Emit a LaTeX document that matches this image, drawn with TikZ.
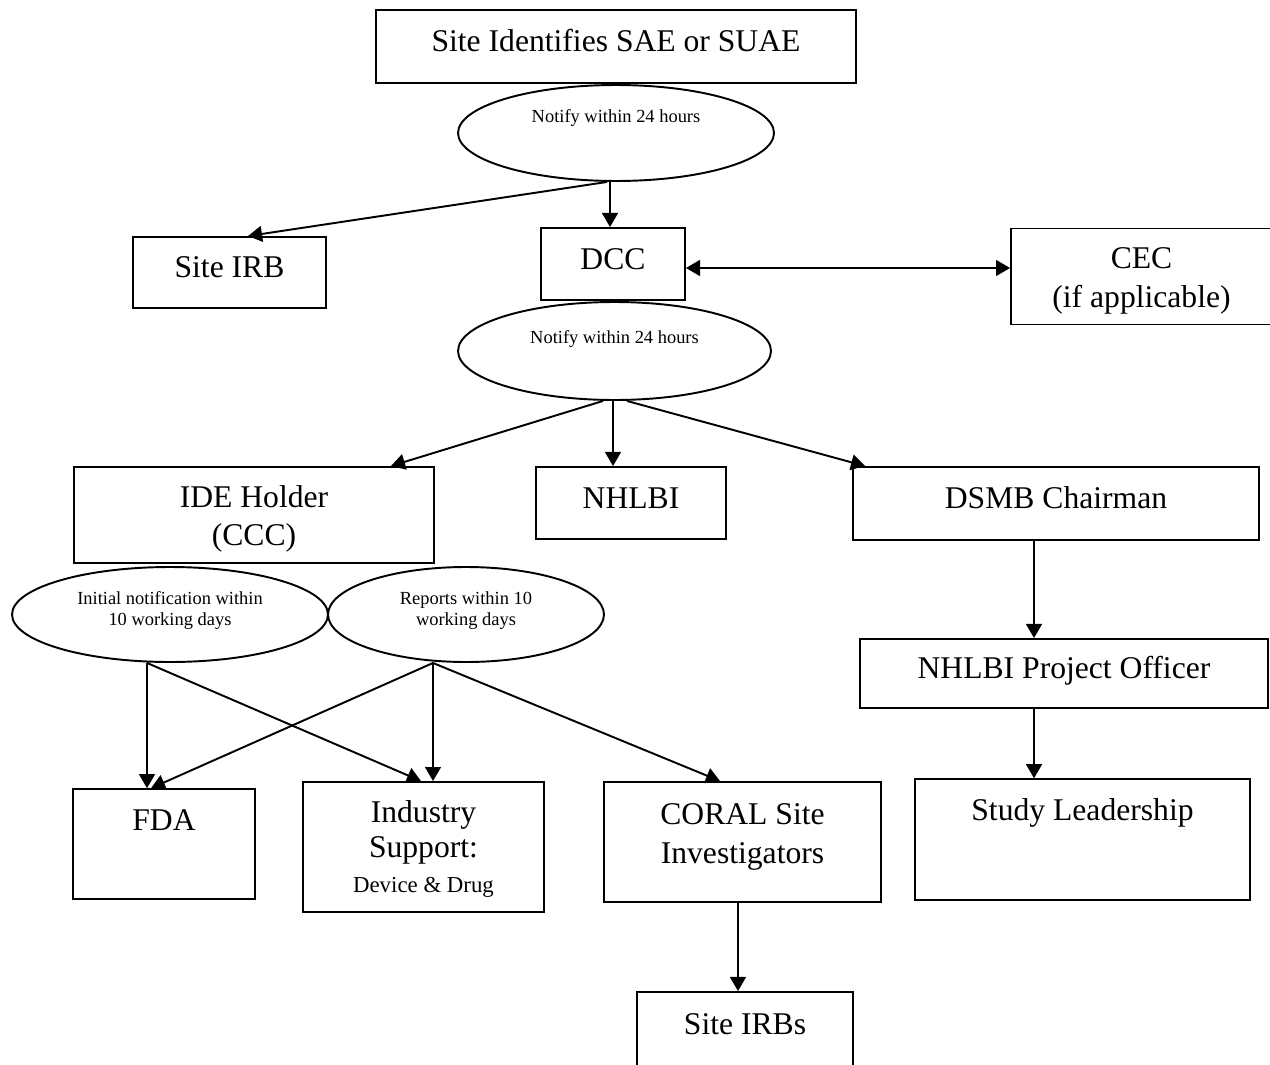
\documentclass[tikz,border=0pt]{standalone}
\usepackage{fontspec}
\setmainfont{Liberation Serif}
\usetikzlibrary{shapes.geometric,arrows.meta}
\newcommand{\boxfont}{\fontsize{18}{22}\selectfont}
\newcommand{\notefont}{\fontsize{10.5}{12}\selectfont}

\begin{document}
\begin{tikzpicture}[
    x=0.02cm, y=-0.02cm,
    box/.style={rectangle, draw, line width=1.1pt, inner sep=4pt, font=\boxfont, text height=13pt, text depth=7pt},
    twobox/.style={rectangle, draw, line width=1.1pt, inner sep=4pt, font=\boxfont, align=center},
    note/.style={ellipse, draw, line width=1.1pt, inner sep=0pt, align=center, font=\notefont},
    arr/.style={-{Triangle[length=8pt,width=9pt]}, line width=1.1pt}
]
\useasboundingbox (0,0) rectangle (1270,1064);

% Site
\node[box, minimum width=9.6cm, minimum height=1.46cm] (sae) at (616,46.5) {Site Identifies SAE or SUAE};
\node[note, minimum width=6.32cm, minimum height=1.92cm] (notify1) at (616,133) {Notify within 24 hours\\[7.5pt]\mbox{}};

% First level
\node[box, minimum width=3.86cm, minimum height=1.42cm] (siteirb) at (229.5,272.5) {Site IRB};
\node[box, minimum width=2.88cm, minimum height=1.44cm] (dcc) at (613,264) {DCC};
\node[twobox, minimum width=5.22cm, minimum height=1.92cm] (cec) at (1141.5,276.5) {\mbox{}\\[-5pt]CEC\\(if applicable)};
\node[note, minimum width=6.26cm, minimum height=1.96cm] (notify2) at (614.5,351) {Notify within 24 hours\\[4pt]\mbox{}};

% Second level
\node[twobox, minimum width=7.2cm, minimum height=1.92cm] (ide) at (254,515) {\mbox{}\\[-5pt]IDE Holder\\(CCC)};
\node[box, minimum width=3.8cm, minimum height=1.44cm] (nhlbi) at (631,503) {NHLBI};
\node[box, minimum width=8.12cm, minimum height=1.46cm] (dsmb) at (1056,503.5) {DSMB Chairman};

\node[note, minimum width=6.32cm, minimum height=1.9cm] (notify3) at (170,614.5) {Initial notification within\\10 working days\\[-5pt]\mbox{}};
\node[note, minimum width=5.52cm, minimum height=1.9cm] (notify4) at (466,614.5) {Reports within 10\\working days\\[-5pt]\mbox{}};
\node[box, minimum width=8.16cm, minimum height=1.38cm] (nhlbipo) at (1064,673.5) {NHLBI Project Officer};

% Third level
\node[box, text height=19.5pt, text depth=34.9pt, minimum width=3.64cm] (fda) at (164,844) {FDA};
\node[twobox, font=\fontsize{18}{20}\selectfont, minimum width=4.82cm, minimum height=2.6cm] (industry) at (423.5,847) {\mbox{}\\[-5pt]Industry\\Support:\\{\fontsize{13}{15}\selectfont Device \& Drug}};
\node[twobox, minimum width=5.54cm, minimum height=2.4cm] (coral) at (742.5,842) {CORAL Site\\Investigators\\[-12.5pt]\mbox{}};
\node[box, text height=19.5pt, text depth=41.1pt, minimum width=6.7cm] (study) at (1082.5,839.5) {Study Leadership};
\node[box, minimum width=4.32cm, minimum height=1.48cm] (siteirbs) at (745,1029) {Site IRBs};

% Connections
\draw[arr] ([xshift=-0.12cm]notify1.south) -- ([xshift=-0.06cm]dcc.north);
\draw[arr] ([xshift=-0.18cm]notify1.south) -- ([xshift=0.37cm]siteirb.north);
\draw[{Triangle[length=8pt,width=9pt]}-{Triangle[length=8pt,width=9pt]}, line width=1.1pt] ([yshift=-0.08cm]dcc.east) -- ([yshift=-0.08cm]dcc.east -| cec.west);

\draw[arr] ([xshift=-0.23cm]notify2.south) -- ([xshift=-0.88cm]ide.north east);
\draw[arr] ([xshift=-0.03cm]notify2.south) -- ([xshift=-0.36cm]nhlbi.north);
\draw[arr] ([xshift=0.25cm]notify2.south) -- ([xshift=0.26cm]dsmb.north west);

\draw[arr] ([xshift=-0.46cm]notify3.south) -- ([xshift=-0.34cm]fda.north);
\draw[arr] ([xshift=-0.46cm]notify3.south) -- ([xshift=-0.05cm]industry.north);
\draw[arr] ([xshift=-0.66cm]notify4.south) -- ([xshift=-0.26cm]fda.north);
\draw[arr] ([xshift=-0.66cm]notify4.south) -- ([xshift=0.19cm]industry.north);
\draw[arr] ([xshift=-0.66cm]notify4.south) -- ([xshift=-0.45cm]coral.north);

\draw[arr] ([xshift=-0.44cm]dsmb.south) -- ([xshift=-0.6cm]nhlbipo.north);
\draw[arr] ([xshift=-0.6cm]nhlbipo.south) -- ([xshift=-0.97cm]study.north);
\draw[arr] ([xshift=-0.09cm]coral.south) -- ([xshift=-0.14cm]siteirbs.north);
\end{tikzpicture}
\end{document}
